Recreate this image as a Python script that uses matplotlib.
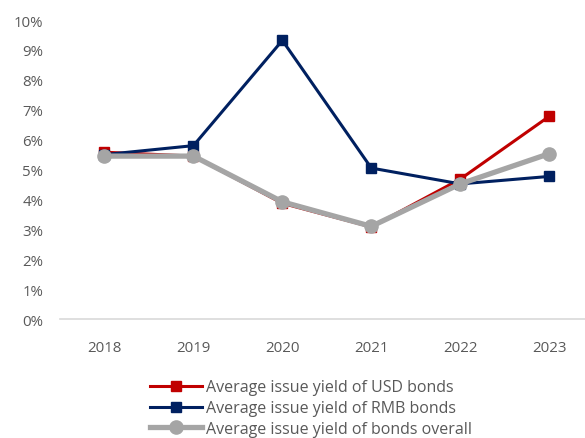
import matplotlib
matplotlib.use("Agg")
import matplotlib.pyplot as plt
from matplotlib.ticker import FuncFormatter

years = ["2018", "2019", "2020", "2021", "2022", "2023"]
usd_yield = [5.58, 5.45, 3.87, 3.08, 4.68, 6.78]
rmb_yield = [5.50, 5.80, 9.32, 5.05, 4.52, 4.77]
overall_yield = [5.45, 5.45, 3.92, 3.10, 4.52, 5.53]

labels = ["Average issue yield of USD bonds",
          "Average issue yield of RMB bonds",
          "Average issue yield of bonds overall"]

text_color = "#595959"
plt.rcParams['font.family'] = ['Open Sans', 'DejaVu Sans']

fig = plt.figure(figsize=(5.85, 4.39), dpi=100)
ax = fig.add_axes([0.1026, 0.271, 0.897, 0.681])

x = range(len(years))
ax.plot(x, usd_yield, color="#C00000", lw=2.2, marker="s", ms=7.5,
        label=labels[0], zorder=3)
ax.plot(x, rmb_yield, color="#002060", lw=2.2, marker="s", ms=7.5,
        label=labels[1], zorder=3)
ax.plot(x, overall_yield, color="#A5A5A5", lw=3.8, marker="o", ms=9.5,
        label=labels[2], zorder=4)

ax.set_ylim(0, 10)
ax.set_yticks(range(0, 11))
ax.yaxis.set_major_formatter(FuncFormatter(lambda v, p: "%d%%" % v))
ax.set_xlim(-0.5, 5.4)
ax.set_xticks(list(x))
ax.set_xticklabels(years)

for s in ["top", "right", "left"]:
    ax.spines[s].set_visible(False)
ax.spines["bottom"].set_color("#D9D9D9")
ax.spines["bottom"].set_linewidth(1.2)
ax.tick_params(axis="both", length=0, labelsize=10.8, colors=text_color)
ax.tick_params(axis="x", pad=15)
ax.tick_params(axis="y", pad=12)

leg = fig.legend(loc="upper left", bbox_to_anchor=(0.245, 0.148),
                 frameon=False, fontsize=11.5, handlelength=3.25,
                 handletextpad=0.3, labelspacing=0.3, borderaxespad=0)
for t in leg.get_texts():
    t.set_color(text_color)

fig.savefig("out.png", dpi=100)
